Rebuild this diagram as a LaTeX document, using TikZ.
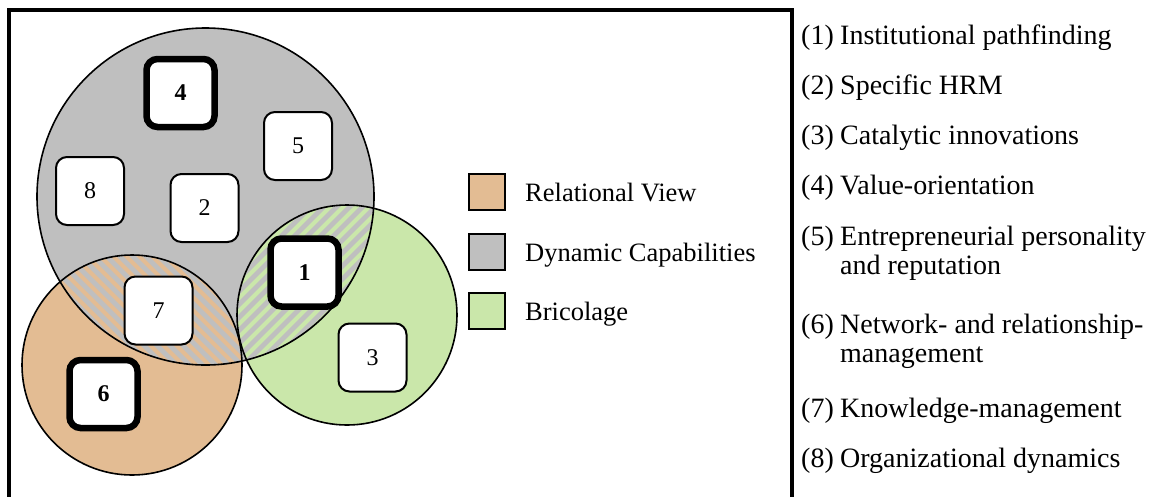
\documentclass[tikz,border=0pt]{standalone}
\usepackage{fontspec}
\setmainfont{Liberation Serif}
\definecolor{relcol}{RGB}{227,188,147}
\definecolor{dcgray}{RGB}{191,191,191}
\definecolor{bricol}{RGB}{202,231,170}
\begin{document}
\begin{tikzpicture}[x=1pt,y=-1pt,
  numbox/.style={draw, fill=white, rounded corners=11pt, minimum size=68pt,
    line width=2pt, inner sep=0pt, font=\fontsize{24}{28}\selectfont},
  keybox/.style={numbox, line width=6.5pt, font=\fontsize{24}{28}\selectfont\bfseries},
  legsq/.style={draw, line width=2pt, minimum size=36pt, inner sep=0pt},
  legtext/.style={anchor=base west, inner sep=0pt, font=\fontsize{26.5}{30}\selectfont},
  itemnum/.style={anchor=base west, inner sep=0pt, font=\fontsize{28}{32}\selectfont},
  itemtext/.style={anchor=base west, inner sep=0pt, font=\fontsize{28}{32}\selectfont},
  ring/.style={draw, line width=1.6pt},
  frame/.style={line width=4pt}
]
\useasboundingbox (0,0) rectangle (1154,496);

% circle geometry
\def\gc{(205.5,196.5) circle[radius=168.5pt]}
\def\oc{(132,365) circle[radius=110pt]}
\def\bc{(347,315) circle[radius=110pt]}

% fills
\fill[relcol] \oc;
\fill[bricol] \bc;
\fill[dcgray] \gc;

% striped overlap: Dynamic Capabilities with Relational View
\begin{scope}
  \clip \gc;
  \clip \oc;
  \foreach \c in {-338,-325,...,10}
    \draw[relcol, line width=4pt] (\c,0) -- ++(500,500);
\end{scope}

% striped overlap: Dynamic Capabilities with Bricolage
\begin{scope}
  \clip \gc;
  \clip \bc;
  \foreach \c in {420,433,...,780}
    \draw[bricol, line width=4pt] (\c,0) -- ++(-500,500);
\end{scope}

% outlines
\draw[ring] \gc;
\draw[ring] \oc;
\draw[ring] \bc;

% numbered factors
\node[keybox] (n4) at (180.5,93) {4};
\node[numbox] (n5) at (298,146) {5};
\node[numbox] (n8) at (90,191) {8};
\node[numbox] (n2) at (204.5,208) {2};
\node[keybox] (n1) at (304.5,272.5) {1};
\node[numbox] (n3) at (372.5,357.5) {3};
\node[numbox] (n7) at (158.5,310.5) {7};
\node[keybox] (n6) at (103.5,394) {6};

% legend
\node[legsq, fill=relcol] (lrel) at (487,192) {};
\node[legsq, fill=dcgray] (ldc) at (487,252) {};
\node[legsq, fill=bricol] (lbr) at (487,311) {};
\node[legtext] (trel) at (525,201) {Relational View};
\node[legtext] (tdc) at (525,261) {Dynamic Capabilities};
\node[legtext] (tbr) at (525,320) {Bricolage};

% frame
\coordinate (fbl) at (9,498);
\coordinate (ftl) at (9,10);
\coordinate (ftr) at (792,10);
\coordinate (fbr) at (792,498);
\draw[frame] (fbl) -- (ftl) -- (ftr) -- (fbr);

% list of factors
\node[itemnum] (k1) at (801,44) {(1)};
\node[itemtext] (d1) at (840,44) {Institutional pathfinding};
\node[itemnum] (k2) at (801,94) {(2)};
\node[itemtext] (d2) at (840,94) {Specific HRM};
\node[itemnum] (k3) at (801,144) {(3)};
\node[itemtext] (d3) at (840,144) {Catalytic innovations};
\node[itemnum] (k4) at (801,194) {(4)};
\node[itemtext] (d4) at (840,194) {Value-orientation};
\node[itemnum] (k5) at (801,245) {(5)};
\node[itemtext] (d5) at (840,245) {Entrepreneurial personality};
\node[itemtext] (d5b) at (840,274) {and reputation};
\node[itemnum] (k6) at (801,333) {(6)};
\node[itemtext] (d6) at (840,333) {Network- and relationship-};
\node[itemtext] (d6b) at (840,362) {management};
\node[itemnum] (k7) at (801,417) {(7)};
\node[itemtext] (d7) at (840,417) {Knowledge-management};
\node[itemnum] (k8) at (801,467) {(8)};
\node[itemtext] (d8) at (840,467) {Organizational dynamics};
\end{tikzpicture}
\end{document}
